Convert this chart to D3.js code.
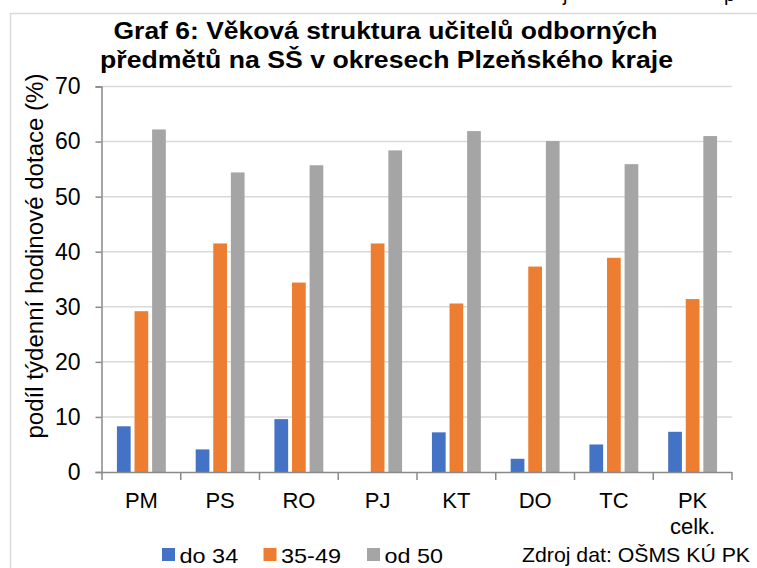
<!DOCTYPE html>
<html>
<head>
<meta charset="utf-8">
<script src="https://cdn.jsdelivr.net/npm/d3@7"></script>
<style>
  body { margin: 0; background: #fff; }
  svg { font-family: "Liberation Sans", Arial, sans-serif; }
</style>
</head>
<body>
<svg width="757" height="568"></svg>
<script>
// data
var categories = ["PM", "PS", "RO", "PJ", "KT", "DO", "TC", "PK\ncelk."];
var series = ["do 34", "35-49", "od 50"];
var do34  = [8.3, 4.1, 9.6, 0, 7.2, 2.4, 5.0, 7.3];
var s3549 = [29.2, 41.5, 34.4, 41.5, 30.6, 37.3, 38.9, 31.4];
var od50  = [62.2, 54.4, 55.7, 58.4, 61.9, 60.1, 55.9, 61.0];
var yTicks = [0, 10, 20, 30, 40, 50, 60, 70];
var colors = ["#4472C4", "#ED7D31", "#A5A5A5"];

var values = [do34, s3549, od50];
var rows = categories.map(function(c, i) {
  return { cat: c, vals: series.map(function(s, j) { return { key: s, v: values[j][i] } }) };
});

var svg = d3.select("svg");

// chart frame (cropped at right/bottom)
svg.append("rect")
  .attr("x", 10.5).attr("y", 13.5)
  .attr("width", 800).attr("height", 600)
  .attr("fill", "none").attr("stroke", "#d9d9d9").attr("stroke-width", 1.5);

// cut-off line of text above the frame
svg.append("text").attr("x", 563).attr("y", 1).attr("font-size", 20).text("j");
svg.append("text").attr("x", 724).attr("y", 1).attr("font-size", 20).text("p");

var x = d3.scaleBand().domain(categories).range([102, 732]);
var y = d3.scaleLinear().domain([0, 70]).range([472, 86.5]);
var bw = x.bandwidth();
var x1 = d3.scaleBand().domain(series)
  .range([(bw - 48.9) / 2, (bw + 48.9) / 2])
  .paddingInner(0.22);
var color = d3.scaleOrdinal().domain(series).range(colors);

// gridlines
svg.append("g")
  .selectAll("line")
  .data(yTicks.slice(1))
  .enter()
  .append("line")
    .attr("x1", 102).attr("x2", 732)
    .attr("y1", function(d){ return y(d) }).attr("y2", function(d){ return y(d) })
    .attr("stroke", "#d9d9d9").attr("stroke-width", 1.5);

// bars
svg.append("g")
  .selectAll("g")
  .data(rows)
  .enter()
  .append("g")
    .attr("transform", function(d){ return "translate(" + x(d.cat) + ",0)" })
  .selectAll("rect")
  .data(function(d){ return d.vals })
  .enter()
  .append("rect")
    .attr("x", function(d){ return x1(d.key) })
    .attr("width", x1.bandwidth())
    .attr("y", function(d){ return y(d.v) })
    .attr("height", function(d){ return y(0) - y(d.v) })
    .attr("fill", function(d){ return color(d.key) });

// y axis
var yAxis = svg.append("g")
  .attr("transform", "translate(101.5,0)")
  .call(d3.axisLeft(y).tickValues(yTicks).tickSize(6).tickPadding(15));
yAxis.selectAll("text").attr("font-size", 23).attr("fill", "#000").attr("font-family", "Liberation Sans, Arial, sans-serif");
yAxis.selectAll("line, path").attr("stroke", "#898989").attr("stroke-width", 1.5);

// x axis: line and ticks between categories
var xg = svg.append("g");
xg.append("line")
  .attr("x1", 102).attr("x2", 732)
  .attr("y1", y(0) + 0.5).attr("y2", y(0) + 0.5)
  .attr("stroke", "#898989").attr("stroke-width", 1.5);
xg.selectAll(".tk")
  .data(categories.map(function(c){ return x(c) }).concat([x.range()[1]]))
  .enter()
  .append("line")
    .attr("x1", function(d){ return d }).attr("x2", function(d){ return d })
    .attr("y1", y(0)).attr("y2", y(0) + 8)
    .attr("stroke", "#898989").attr("stroke-width", 1.5);
xg.selectAll(".lbl")
  .data(categories)
  .enter()
  .append("text")
    .attr("text-anchor", "middle")
    .attr("font-size", 22)
    .attr("x", function(d){ return x(d) + bw / 2 })
    .attr("y", 508)
  .selectAll("tspan")
  .data(function(d){ return d.split("\n") })
  .enter()
  .append("tspan")
    .attr("x", function(){ return this.parentNode.getAttribute("x") })
    .attr("dy", function(d, i){ return i ? 26 : 0 })
    .text(function(d){ return d });

// y axis title
svg.append("text")
  .attr("transform", "translate(43,256) rotate(-90)")
  .attr("text-anchor", "middle")
  .attr("font-size", 23)
  .attr("textLength", 365)
  .attr("lengthAdjust", "spacingAndGlyphs")
  .text("podíl týdenní hodinové dotace (%)");

// title
var title = svg.append("text")
  .attr("text-anchor", "middle")
  .attr("font-size", 23)
  .attr("font-weight", "bold");
title.append("tspan").attr("x", 385.5).attr("y", 39)
  .attr("textLength", 544).attr("lengthAdjust", "spacingAndGlyphs")
  .text("Graf 6: Věková struktura učitelů odborných");
title.append("tspan").attr("x", 386.5).attr("y", 68)
  .attr("textLength", 573).attr("lengthAdjust", "spacingAndGlyphs")
  .text("předmětů na SŠ v okresech Plzeňského kraje");

// legend
var legX = [162, 263.5, 367];
var legW = [58.7, 60, 58.4];
var leg = svg.append("g")
  .selectAll("g")
  .data(series)
  .enter()
  .append("g")
    .attr("transform", function(d, i){ return "translate(" + legX[i] + ",548)" });
leg.append("rect").attr("width", 13).attr("height", 13)
  .attr("fill", function(d){ return color(d) });
leg.append("text").attr("x", 17.5).attr("y", 15).attr("font-size", 21)
  .attr("textLength", function(d, i){ return legW[i] })
  .attr("lengthAdjust", "spacingAndGlyphs")
  .text(function(d){ return d });

// source note
svg.append("text")
  .attr("x", 750).attr("y", 562)
  .attr("text-anchor", "end")
  .attr("font-size", 21)
  .attr("textLength", 228)
  .attr("lengthAdjust", "spacingAndGlyphs")
  .text("Zdroj dat: OŠMS KÚ PK");
</script>
</body>
</html>
